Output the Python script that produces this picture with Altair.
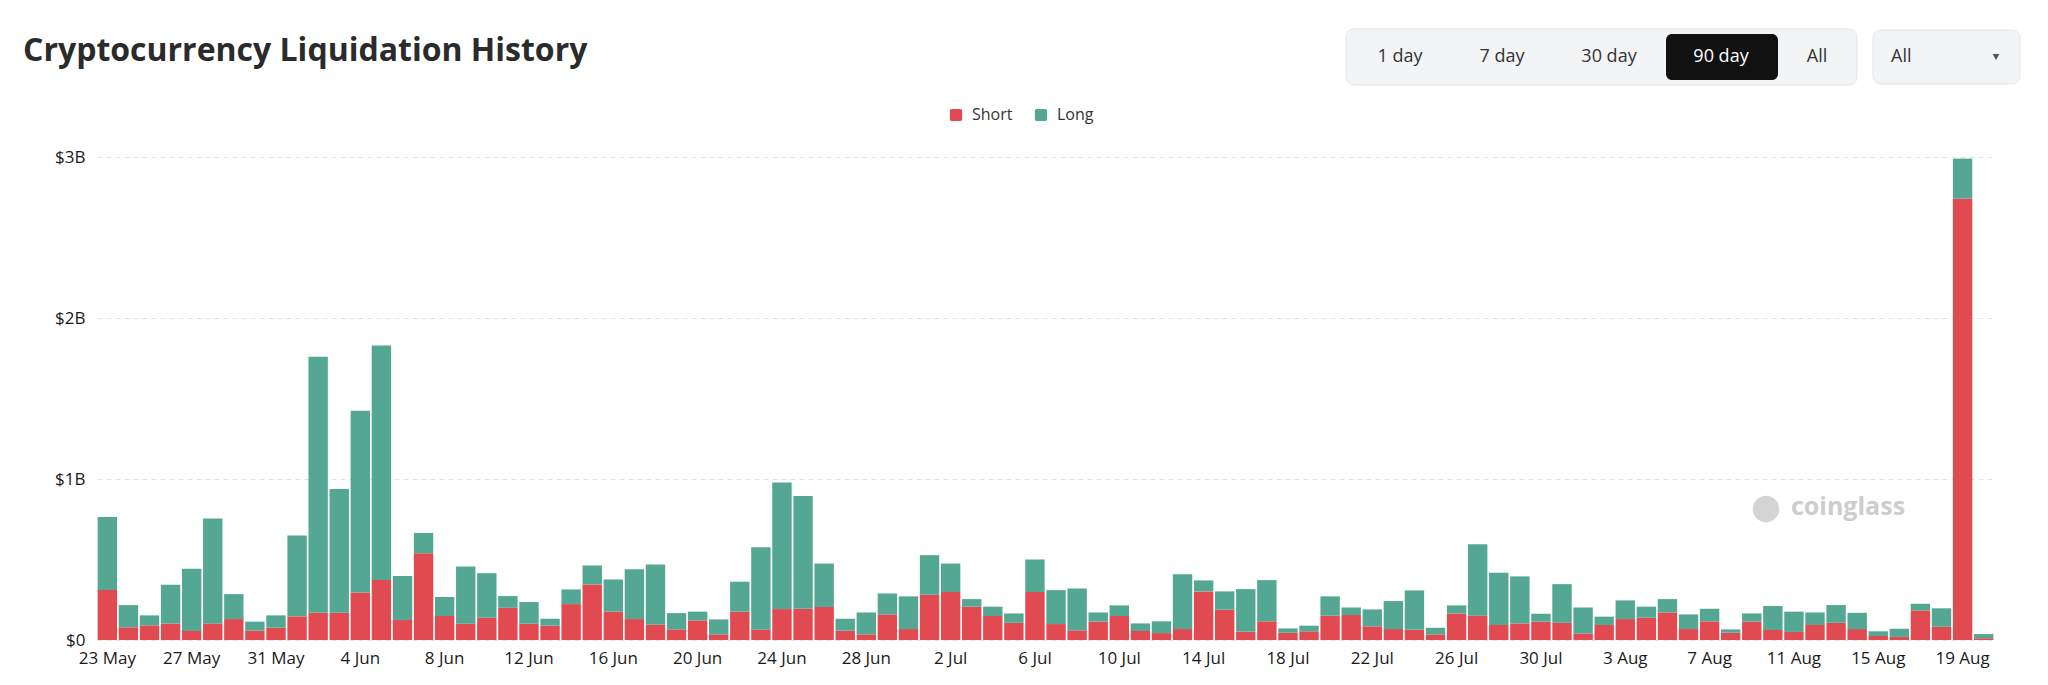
import altair as alt
import pandas as pd

# ---------------- data (USD millions) ----------------
dates = pd.date_range("2024-05-23", periods=90, freq="D")
day_labels = [f"{d.day} {d.strftime('%b')}" for d in dates]

total_m = [
    764, 217, 153, 343, 442, 754, 285, 114, 153, 649,
    1760, 938, 1424, 1829, 397, 665, 267, 457, 415, 273,
    236, 132, 314, 463, 376, 440, 469, 167, 176, 128,
    362, 576, 979, 895, 475, 132, 171, 289, 271, 527,
    475, 254, 207, 165, 500, 310, 320, 171, 215, 103,
    116, 409, 370, 302, 316, 372, 72, 89, 271, 202,
    190, 242, 308, 76, 215, 595, 417, 395, 163, 347,
    202, 145, 246, 207, 254, 159, 194, 66, 165, 211,
    176, 171, 217, 169, 54, 70, 225, 197, 2990, 37,
]
short_m = [
    310, 79, 91, 103, 56, 103, 130, 58, 76, 147,
    169, 169, 295, 372, 124, 539, 149, 101, 138, 200,
    101, 89, 223, 345, 176, 130, 95, 66, 122, 35,
    176, 64, 192, 194, 205, 58, 35, 159, 68, 281,
    298, 207, 149, 107, 298, 99, 60, 114, 149, 56,
    43, 68, 302, 188, 52, 116, 45, 54, 151, 155,
    85, 68, 64, 35, 165, 151, 93, 103, 114, 107,
    41, 93, 130, 138, 171, 68, 116, 45, 114, 62,
    50, 93, 107, 68, 25, 19, 184, 82, 2742, 11,
]
long_m = [t - s for t, s in zip(total_m, short_m)]

sides = ["Short", "Long"]
y_ticks = [0, 1000, 2000, 3000]
x_ticks = day_labels[::4]
buttons = ["1 day", "7 day", "30 day", "90 day", "All"]

rows = []
for i, lab in enumerate(day_labels):
    rows.append({"day": lab, "side": "Short", "value": short_m[i], "ord": 0})
    rows.append({"day": lab, "side": "Long", "value": long_m[i], "ord": 1})
df = pd.DataFrame(rows)

RED = "#E04A50"
GREEN = "#54A893"
FONT = "Open Sans"
TXT = "#1a1a1a"

rounded_sq = ("M-0.7,-1H0.7Q1,-1,1,-0.7V0.7Q1,1,0.7,1H-0.7Q-1,1,-1,0.7"
              "V-0.7Q-1,-1,-0.7,-1Z")

bars = alt.Chart(df).mark_bar().encode(
    x=alt.X(
        "day:N", sort=day_labels,
        scale=alt.Scale(paddingInner=0.08, paddingOuter=0.03),
        axis=alt.Axis(values=x_ticks, labelAngle=0, title=None, ticks=False,
                      tickSize=0, domain=False, grid=False, labelFontSize=17,
                      labelFont=FONT, labelColor=TXT, labelPadding=10),
    ),
    y=alt.Y(
        "value:Q", stack="zero",
        scale=alt.Scale(domain=[0, 3000], nice=False),
        axis=alt.Axis(values=y_ticks, title=None, ticks=False, tickSize=0,
                      domain=False, grid=True, gridDash=[5, 4],
                      gridColor="#e4e4e4", gridWidth=1,
                      labelExpr="datum.value == 0 ? '$0' : '$' + (datum.value/1000) + 'B'",
                      labelFontSize=17, labelFont=FONT, labelColor=TXT,
                      labelPadding=12),
    ),
    color=alt.Color(
        "side:N",
        scale=alt.Scale(domain=sides, range=[RED, GREEN]),
        legend=alt.Legend(title=None, orient="none", legendX=851, legendY=-50,
                          direction="horizontal", symbolType=rounded_sq,
                          symbolSize=150, symbolStrokeWidth=0,
                          labelFontSize=16, labelFont=FONT, labelColor="#333",
                          columnPadding=20, labelOffset=8, padding=0),
    ),
    order=alt.Order("ord:Q", sort="ascending"),
)


def deco():
    return alt.Chart(alt.Data(values=[{"k": 1}]))


layers = [bars]

# watermark
layers.append(deco().mark_point(filled=True, shape="circle", size=700,
                                 color="#d4d4d4", opacity=1).encode(
    x=alt.value(1669), y=alt.value(352)))
layers.append(deco().mark_text(text="coinglass", font=FONT, fontSize=25,
                                fontWeight="bold", color="#cdcdcd",
                                align="center", baseline="middle").encode(
    x=alt.value(1751), y=alt.value(350)))

# range buttons
layers.append(deco().mark_rect(fill="#f3f4f6", stroke="#e3e5e8", strokeWidth=1,
                                cornerRadius=8).encode(
    x=alt.value(1249), x2=alt.value(1760), y=alt.value(-128), y2=alt.value(-72)))
layers.append(deco().mark_rect(fill="#111111", cornerRadius=6).encode(
    x=alt.value(1569), x2=alt.value(1681), y=alt.value(-123), y2=alt.value(-77)))
btn_x = [1303, 1405, 1512, 1624, 1720]
for lab, bx in zip(buttons, btn_x):
    layers.append(deco().mark_text(text=lab, font=FONT, fontSize=18,
                                    color="#ffffff" if lab == "90 day" else "#333333",
                                    align="center", baseline="middle").encode(
        x=alt.value(bx), y=alt.value(-100)))

# dropdown
layers.append(deco().mark_rect(fill="#f3f4f6", stroke="#e3e5e8", strokeWidth=1,
                                cornerRadius=8).encode(
    x=alt.value(1776), x2=alt.value(1923), y=alt.value(-127), y2=alt.value(-73)))
layers.append(deco().mark_text(text="All", font=FONT, fontSize=18, color="#333333",
                                align="left", baseline="middle").encode(
    x=alt.value(1794), y=alt.value(-100)))
layers.append(deco().mark_point(filled=True, shape="triangle-down", size=45,
                                 color="#555555", opacity=1).encode(
    x=alt.value(1899), y=alt.value(-100)))

chart = alt.layer(*layers).properties(
    width=1897,
    height=483,
    padding={"left": 89, "top": 149, "right": 46, "bottom": 30},
    autosize=alt.AutoSizeParams(type="none"),
    background="white",
    title=alt.TitleParams(
        text="Cryptocurrency Liquidation History",
        anchor="start", frame="group", orient="top",
        font=FONT, fontSize=32, fontWeight="bold", color="#2b2b2b",
        dx=-74, offset=0, dy=64, baseline="alphabetic",
    ),
).configure_view(stroke=None)

chart.save("out.html", embed_options={"renderer": "svg", "actions": False})
